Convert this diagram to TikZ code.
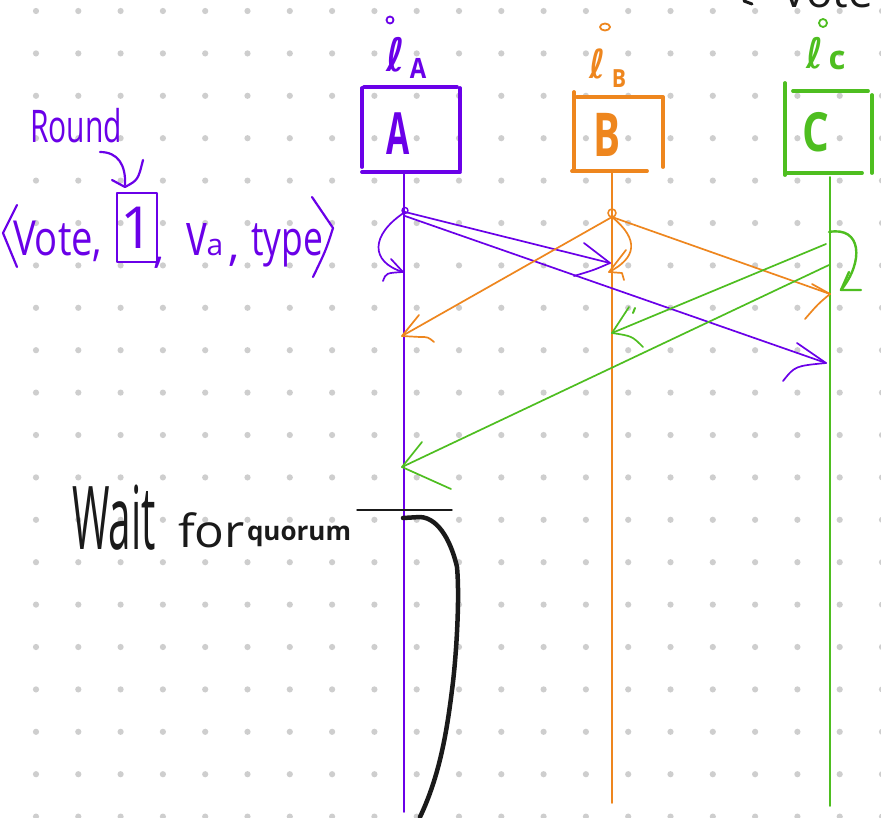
\documentclass[tikz,border=0pt]{standalone}
\usepackage{fontspec}
\setmainfont{Open Sans}
\newfontfamily\dejavu{DejaVu Sans}
\usepackage{graphicx}
\definecolor{pur}{RGB}{106,0,232}
\definecolor{org}{RGB}{238,134,30}
\definecolor{grn}{RGB}{78,190,32}
\definecolor{ink}{RGB}{26,26,26}
\definecolor{dotc}{RGB}{206,206,206}
\begin{document}
\begin{tikzpicture}[x=1pt,y=-1pt, line cap=round, line join=round,
  msg/.style={line width=1.7pt},
  hand/.style={line width=2.2pt},
  boxline/.style={line width=3.8pt},
  life/.style={line width=1.8pt},
  lbl/.style={inner sep=0pt, outer sep=0pt}]
\useasboundingbox (0,0) rectangle (881,817);
\fill[white] (0,0) rectangle (881,817);
\foreach \i in {0,...,20}{\foreach \j in {0,...,19}{\fill[dotc] ({36+42.3*\i},{11+42.4*\j}) circle[radius=3.1pt];}}

% ---------- participant boxes ----------
\draw[boxline,pur] (362,88) -- (362,167) (364,87) -- (457,87) (460,88) -- (460,170) (362,172) -- (460,172);
\draw[boxline,org] (574,92) -- (574,171) (577,97) -- (663,97) (663,97) -- (663,167) (572,171) -- (647,171);
\draw[boxline,grn] (785,83) -- (785,175) (793,91) -- (868,91) (872,95) -- (872,173) (785,173) -- (862,173);

\node[lbl,pur,font=\bfseries\fontsize{56}{56}\selectfont] (A) at (398,134) {\scalebox{0.6}[1.04]{A}};
\node[lbl,org,font=\bfseries\fontsize{56}{56}\selectfont] (B) at (607,135) {\scalebox{0.72}[1.08]{B}};
\node[lbl,grn,font=\bfseries\fontsize{54}{54}\selectfont] (C) at (816,132) {\scalebox{0.78}[1]{C}};

% ---------- labels above boxes ----------
\node[lbl,pur,font=\dejavu\bfseries\fontsize{46}{46}\selectfont] (lA) at (396,55) {\scalebox{0.85}[1]{ℓ}};
\node[lbl,pur,font=\bfseries\fontsize{28}{28}\selectfont] (sA) at (418,68) {\scalebox{0.85}[1]{A}};
\draw[pur,line width=1.8pt] (390,20) circle[radius=3.5pt];
\node[lbl,org,font=\dejavu\bfseries\fontsize{40}{40}\selectfont] (lB) at (598,64) {\scalebox{0.85}[1]{ℓ}};
\node[lbl,org,font=\bfseries\fontsize{25}{25}\selectfont] (sB) at (619,79) {\scalebox{0.85}[1]{B}};
\draw[org,line width=1.8pt] (605,27) ellipse[x radius=5pt,y radius=3.5pt];
\node[lbl,grn,font=\dejavu\bfseries\fontsize{42}{42}\selectfont] (lC) at (815,53) {\scalebox{0.85}[1]{ℓ}};
\node[lbl,grn,font=\bfseries\fontsize{33}{33}\selectfont] (sC) at (837,60) {c};
\draw[grn,line width=1.8pt] (823,23) circle[radius=4pt];

% ---------- lifelines ----------
\coordinate (Atop) at (404,172); \coordinate (Abot) at (404,812);
\coordinate (Btop) at (612,171); \coordinate (Bbot) at (612,803);
\coordinate (Ctop) at (830,177); \coordinate (Cbot) at (830,806);
\draw[life,pur] (Atop) -- (Abot);
\draw[life,org] (Btop) -- (Bbot);
\draw[life,grn] (Ctop) -- (Cbot);

% ---------- purple messages ----------
\coordinate (a0) at (405,212);
\coordinate (a1) at (405,216);
\coordinate (aSelf) at (403,272);
\coordinate (aB) at (610,263);
\coordinate (aC) at (826,363);
\draw[pur,line width=1.4pt] (405,210.5) circle[radius=3pt];
\draw[pur,msg] (a0) .. controls (370,235) and (370,262) .. (aSelf);
\draw[pur,msg] (391,259) -- (aSelf) (383,281) .. controls (386,273) .. (aSelf);
\draw[pur,msg] (a0) -- (aB);
\draw[pur,msg] (584,243) -- (aB) .. controls (594,270) .. (574,276);
\draw[pur,msg] (a1) -- (aC);
\draw[pur,msg] (797,343) -- (aC) .. controls (795,366) .. (783,381);

% ---------- orange messages ----------
\coordinate (b0) at (612,217);
\coordinate (bA) at (402,336);
\coordinate (bSelf) at (609,272);
\coordinate (bC) at (830,294);
\draw[org,line width=1.6pt] (612,213) circle[radius=4pt];
\draw[org,msg] (b0) -- (bA);
\draw[org,msg] (419,315) -- (bA) -- (420,337) .. controls (428,337) .. (434,342);
\draw[org,msg] (b0) .. controls (640,240) and (636,258) .. (bSelf);
\draw[org,msg] (626,250) -- (bSelf) -- (622,273) -- (624,280);
\draw[org,msg] (b0) -- (bC);
\draw[org,msg] (812,284) -- (bC) .. controls (818,304) .. (805,319);

% ---------- green messages ----------
\coordinate (c0) at (826,244);
\coordinate (c1) at (829,265);
\coordinate (cSelf) at (841,290);
\coordinate (cB) at (612,333);
\coordinate (cA) at (402,467);
\draw[grn,line width=2.4pt] (829,232) .. controls (862,226) and (864,262) .. (cSelf);
\draw[grn,line width=2.4pt] (849,272) -- (cSelf) -- (861,290);
\draw[grn,msg] (c0) -- (cB);
\draw[grn,msg] (629,307) -- (cB) .. controls (632,336) .. (643,347);
\draw[grn,line width=2pt] (633,313) -- (635,308);
\draw[grn,msg] (c1) -- (cA);
\draw[grn,msg] (422,442) -- (cA) -- (451,489);

% ---------- left message label ----------
\node[lbl,pur,anchor=base west,font=\fontsize{30}{30}\selectfont] (round) at (30,142) {\scalebox{1}[1.5]{Round}};
\draw[pur,hand] (100,152) .. controls (118,152) and (126,165) .. (125,185);
\draw[pur,hand] (112,180) -- (125,187) .. controls (138,180) .. (143,160);
\draw[pur,hand] (17,205) -- (3,233) -- (17,267);
\node[lbl,pur,anchor=base west,font=\fontsize{46}{46}\selectfont] (vote) at (13,255) {\scalebox{0.83}[1.05]{Vote,}};
\node[lbl,pur,draw,line width=2.2pt,minimum width=40pt,minimum height=69pt,font=\fontsize{58}{58}\selectfont] (one) at (137,227.5) {1};
\node[lbl,pur,anchor=base west,font=\fontsize{46}{46}\selectfont] (c1t) at (153,262) {,};
\node[lbl,pur,anchor=base west,font=\fontsize{46}{46}\selectfont] (va) at (186,255) {\scalebox{0.9}[1.3]{v}{\fontsize{30}{30}\selectfont a}};
\node[lbl,pur,anchor=base west,font=\fontsize{46}{46}\selectfont] (c2t) at (228,260) {,};
\node[lbl,pur,anchor=base west,font=\fontsize{46}{46}\selectfont] (type) at (251,255) {\scalebox{0.77}[1.05]{type}};
\draw[pur,hand] (312,197) -- (333,228) .. controls (326,250) .. (313,277);

% ---------- wait for quorum ----------
\node[lbl,ink,anchor=base west,font=\fontsize{44}{44}\selectfont] (wait) at (72,549) {\scalebox{0.92}[2.0]{Wait}};
\node[lbl,ink,anchor=base west,font=\fontsize{38}{38}\selectfont] (for) at (178,547) {\scalebox{1.3}[1.2]{for}};
\node[lbl,ink,anchor=base west,font=\bfseries\fontsize{26}{26}\selectfont] (quorum) at (247,540) {quorum};
\coordinate (qL) at (357,510); \coordinate (qR) at (452,510);
\draw[ink,line width=1.4pt] (qL) -- (qR);
\coordinate (w0) at (403,518); \coordinate (w1) at (420,817);
\draw[ink,line width=4.5pt] (w0) -- (420,517) .. controls (440,518) and (452,545) .. (457,567)
  .. controls (460,600) and (456,660) .. (452,690) .. controls (447,730) and (440,775) .. (w1);

% ---------- top right ----------
\draw[ink,line width=3pt] (744,1) -- (752,4);
\node[lbl,ink,anchor=base west,font=\fontsize{44}{44}\selectfont] (vt) at (781,7) {Vote};
\end{tikzpicture}
\end{document}
